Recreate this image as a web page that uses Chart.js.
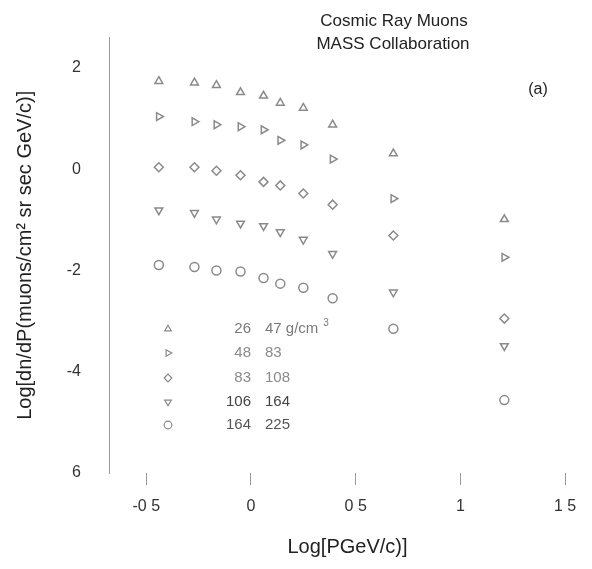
<!DOCTYPE html>
<html lang="en">
<head>
    <meta charset="UTF-8">
    <title>Cosmic Ray Muons - MASS Collaboration</title>
    <script src="https://cdn.jsdelivr.net/npm/chart.js"></script>
    <style>
        body {
            margin: 0;
            background-color: #fff;
        }
        #wrap {
            width: 592px;
            height: 569px;
        }
    </style>
</head>
<body>
    <div id="wrap"><canvas id="muonChart"></canvas></div>

    <script>
        // Log10 of momentum (GeV/c), shared by all depth bins
        const pLog = [-0.44, -0.27, -0.165, -0.05, 0.06, 0.14, 0.25, 0.39, 0.68, 1.21];

        // Log10 of dn/dP for each depth bin
        const depth26to47 = [1.74, 1.71, 1.66, 1.52, 1.45, 1.31, 1.21, 0.88, 0.31, -0.99];
        const depth48to83 = [1.04, 0.94, 0.88, 0.84, 0.78, 0.57, 0.48, 0.20, -0.58, -1.74];
        const depth83to108 = [0.04, 0.04, -0.03, -0.12, -0.25, -0.32, -0.48, -0.70, -1.31, -2.95];
        const depth106to164 = [-0.81, -0.86, -0.99, -1.07, -1.12, -1.24, -1.39, -1.67, -2.43, -3.49];
        const depth164to225 = [-1.89, -1.93, -2.00, -2.02, -2.15, -2.26, -2.34, -2.55, -3.15, -4.56];

        // legend text (g/cm^2 ranges)
        const depthMin = ['26', '48', '83', '106', '164'];
        const depthMax = ['47', '83', '108', '164', '225'];

        // tick labels as printed
        const xTickValues = [-0.5, 0, 0.5, 1, 1.5];
        const xTickLabels = ['-0 5', '0', '0 5', '1', '1 5'];
        const yTickValues = [2, 0, -2, -4, -6];
        const yTickLabels = ['2', '0', '-2', '-4', '6'];

        const FONT = "'Liberation Sans', Arial, sans-serif";
        const markColor = '#8a8a8a';

        const styles = [
            { pointStyle: 'triangle', rotation: 0 },
            { pointStyle: 'triangle', rotation: 90 },
            { pointStyle: 'rectRot', rotation: 0 },
            { pointStyle: 'triangle', rotation: 180 },
            { pointStyle: 'circle', rotation: 0 }
        ];
        const series = [depth26to47, depth48to83, depth83to108, depth106to164, depth164to225];

        const datasets = series.map((ys, i) => ({
            label: depthMin[i] + ' ' + depthMax[i],
            data: ys.map((y, j) => ({ x: pLog[j], y: y })),
            showLine: false,
            pointStyle: styles[i].pointStyle,
            rotation: styles[i].rotation,
            pointRadius: 4.5,
            borderColor: markColor,
            backgroundColor: 'rgba(0,0,0,0)',
            pointBorderWidth: 1.5
        }));

        // titles, panel tag and the in-plot legend
        const annotations = {
            id: 'annotations',
            afterDraw(chart) {
                const ctx = chart.ctx;
                ctx.save();
                ctx.textBaseline = 'middle';

                ctx.fillStyle = '#222';
                ctx.font = '17px ' + FONT;
                ctx.textAlign = 'center';
                ctx.fillText('Cosmic Ray Muons', 394, 21);
                ctx.fillText('MASS Collaboration', 393, 44);

                ctx.font = '16px ' + FONT;
                ctx.fillText('(a)', 538, 90);

                const rowsY = [329, 353, 378, 402, 425];
                const textColors = ['#7a7a7a', '#8a8a8a', '#8a8a8a', '#444', '#555'];
                rowsY.forEach((y, i) => {
                    if (Chart.helpers && Chart.helpers.drawPoint) {
                        ctx.strokeStyle = markColor;
                        ctx.fillStyle = 'rgba(0,0,0,0)';
                        ctx.lineWidth = 1.2;
                        Chart.helpers.drawPoint(ctx, {
                            pointStyle: styles[i].pointStyle,
                            rotation: styles[i].rotation,
                            radius: 3.8,
                            borderWidth: 1.2
                        }, 168, y);
                    }
                    ctx.fillStyle = textColors[i];
                    ctx.font = '15px ' + FONT;
                    ctx.textAlign = 'right';
                    ctx.fillText(depthMin[i], 251, y);
                    ctx.textAlign = 'left';
                    const second = i === 0 ? depthMax[i] + ' g/cm' : depthMax[i];
                    ctx.fillText(second, 265, y);
                    if (i === 0) {
                        const w = ctx.measureText(second).width;
                        ctx.font = '10px ' + FONT;
                        ctx.fillText('3', 265 + w + 5, y - 6);
                    }
                });
                ctx.restore();
            }
        };

        const ctx = document.getElementById('muonChart').getContext('2d');
        const muonChart = new Chart(ctx, {
            type: 'scatter',
            data: { datasets: datasets },
            options: {
                responsive: true,
                maintainAspectRatio: false,
                animation: false,
                layout: { padding: { top: 27, right: 2, left: 0, bottom: 0 } },
                plugins: {
                    legend: { display: false },
                    tooltip: { enabled: false }
                },
                scales: {
                    x: {
                        type: 'linear',
                        min: -0.678,
                        max: 1.6,
                        afterBuildTicks: (scale) => {
                            scale.ticks = xTickValues.map(v => ({ value: v }));
                        },
                        afterFit: (scale) => { scale.height = 96; },
                        ticks: {
                            color: '#333',
                            font: { family: FONT, size: 16 },
                            padding: 12,
                            maxRotation: 0,
                            callback: (v) => xTickLabels[xTickValues.indexOf(v)]
                        },
                        grid: {
                            display: true,
                            drawOnChartArea: false,
                            drawTicks: true,
                            tickLength: 12,
                            color: '#9a9a9a',
                            lineWidth: 1
                        },
                        border: { display: false },
                        title: {
                            display: true,
                            text: 'Log[PGeV/c)]',
                            color: '#222',
                            font: { family: FONT, size: 20 },
                            padding: { top: 0, bottom: 10 }
                        }
                    },
                    y: {
                        type: 'linear',
                        min: -6,
                        max: 2.6,
                        afterBuildTicks: (scale) => {
                            scale.ticks = yTickValues.map(v => ({ value: v }));
                        },
                        afterFit: (scale) => { scale.width = 109; },
                        ticks: {
                            color: '#333',
                            font: { family: FONT, size: 16 },
                            padding: 28,
                            callback: (v) => yTickLabels[yTickValues.indexOf(v)]
                        },
                        grid: { display: false, drawTicks: false },
                        border: { display: true, color: '#9a9a9a', width: 1 },
                        title: {
                            display: true,
                            text: 'Log[dn/dP(muons/cm² sr sec GeV/c)]',
                            color: '#222',
                            font: { family: FONT, size: 20 },
                            padding: { top: 13, bottom: 0 }
                        }
                    }
                }
            },
            plugins: [annotations]
        });
    </script>
</body>
</html>
